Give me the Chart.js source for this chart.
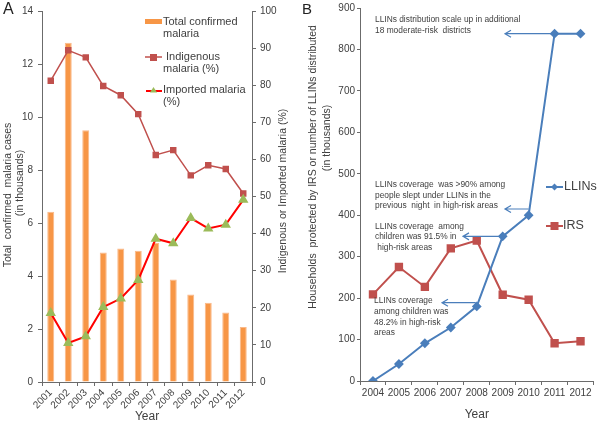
<!DOCTYPE html>
<html>
<head>
<meta charset="utf-8">
<script src="https://cdn.jsdelivr.net/npm/chart.js@4.4.0/dist/chart.umd.min.js"></script>
<style>
  html, body { margin: 0; padding: 0; background: #fff; }
  #wrap { position: relative; width: 600px; height: 423px; }
  #cA { position: absolute; left: 0; top: 0; }
  #cB { position: absolute; left: 300px; top: 0; }
</style>
</head>
<body>
<div id="wrap">
  <canvas id="cA" width="300" height="423"></canvas>
  <canvas id="cB" width="300" height="423"></canvas>
</div>
<script>
// Panel A data
const years = ['2001', '2002', '2003', '2004', '2005', '2006', '2007', '2008', '2009', '2010', '2011', '2012'];
const totalCases = [6.42, 12.8, 9.5, 4.89, 5.04, 4.95, 5.25, 3.87, 3.3, 2.99, 2.62, 2.08];
const indigenousPct = [81.2, 89.4, 87.5, 79.8, 77.3, 72.2, 61.2, 62.5, 55.7, 58.4, 57.4, 50.8];
const importedPct = [18.6, 10.5, 12.3, 20.2, 22.5, 27.5, 38.6, 37.4, 44.2, 41.4, 42.4, 49.1];

// Panel B data
const yearsB = ['2004', '2005', '2006', '2007', '2008', '2009', '2010', '2011', '2012'];
const llins = [0, 41, 91, 129, 180, 349, 400, 838, 838];
const irs = [209, 275, 227, 320, 339, 208, 196, 91, 96];

const FONT = '"Liberation Sans", Arial, sans-serif';
const TXT = '#404040';
const AXIS = '#6b6b6b';
const ORANGE = '#F79646';
const DARKRED = '#C0504D';
const BLUE = '#4A7EBB';

function rotText(ctx, text, x, y, size) {
    ctx.save();
    ctx.translate(x, y);
    ctx.rotate(-Math.PI / 2);
    ctx.font = size + 'px ' + FONT;
    ctx.fillStyle = TXT;
    ctx.textAlign = 'center';
    ctx.textBaseline = 'middle';
    ctx.fillText(text, 0, 0);
    ctx.restore();
}

function lines(ctx, arr, x, y, lh, size) {
    ctx.font = size + 'px ' + FONT;
    ctx.fillStyle = TXT;
    ctx.textAlign = 'left';
    ctx.textBaseline = 'middle';
    arr.forEach((t, i) => ctx.fillText(t, x, y + i * lh));
}

// Texte und Legende für Panel A
const decorA = {
    id: 'decorA',
    afterDraw(chart) {
        const ctx = chart.ctx;
        const area = chart.chartArea;
        ctx.save();
        ctx.font = '16px ' + FONT;
        ctx.fillStyle = '#222';
        ctx.textBaseline = 'top';
        ctx.fillText('A', 3, 2);

        rotText(ctx, 'Total  confirmed  malaria cases', 8, 195, 10.5);
        rotText(ctx, '(in thousands)', 20, 183, 10.5);
        rotText(ctx, 'Indigenous or Imported malaria (%)', 283, 191, 10.5);

        ctx.font = '12px ' + FONT;
        ctx.fillStyle = TXT;
        ctx.textAlign = 'center';
        ctx.textBaseline = 'middle';
        ctx.fillText('Year', (area.left + area.right) / 2, 417);

        // legend
        ctx.fillStyle = ORANGE;
        ctx.fillRect(145, 19, 17, 5);
        lines(ctx, ['Total confirmed', 'malaria'], 163, 22, 11.5, 11);

        ctx.strokeStyle = DARKRED;
        ctx.lineWidth = 1.5;
        ctx.beginPath(); ctx.moveTo(145, 57); ctx.lineTo(162, 57); ctx.stroke();
        ctx.fillStyle = DARKRED;
        ctx.fillRect(150, 54, 7, 7);
        lines(ctx, [' Indigenous', 'malaria (%)'], 163, 57, 11.5, 11);

        ctx.strokeStyle = '#FF0000';
        ctx.lineWidth = 2;
        ctx.beginPath(); ctx.moveTo(146, 91); ctx.lineTo(162, 91); ctx.stroke();
        ctx.fillStyle = '#9BBB59';
        ctx.beginPath(); ctx.moveTo(153.5, 87); ctx.lineTo(157, 92.5); ctx.lineTo(150, 92.5); ctx.closePath(); ctx.fill();
        lines(ctx, ['Imported malaria', '(%)'], 163, 90, 11.5, 11);
        ctx.restore();
    }
};

function arrow(ctx, x1, x2, y) {
    ctx.beginPath();
    ctx.moveTo(x1, y); ctx.lineTo(x2, y);
    ctx.moveTo(x2 + 6, y - 3.5); ctx.lineTo(x2, y); ctx.lineTo(x2 + 6, y + 3.5);
    ctx.stroke();
}

// Anmerkungen für Panel B
const decorB = {
    id: 'decorB',
    afterDraw(chart) {
        const ctx = chart.ctx;
        const area = chart.chartArea;
        const xs = chart.scales.x;
        const ys = chart.scales.y;
        ctx.save();
        ctx.font = '15px ' + FONT;
        ctx.fillStyle = '#222';
        ctx.textBaseline = 'top';
        ctx.fillText('B', 2, 2);

        rotText(ctx, 'Households  protected by IRS or number of LLINs distributed', 13, 167, 10.5);
        rotText(ctx, '(in thousands)', 27, 138, 10.5);

        ctx.font = '12px ' + FONT;
        ctx.fillStyle = TXT;
        ctx.textAlign = 'center';
        ctx.textBaseline = 'middle';
        ctx.fillText('Year', (area.left + area.right) / 2, 415);

        lines(ctx, ['LLINs distribution scale up in additional', '18 moderate-risk  districts'], 75, 20, 10.3, 8.4);
        lines(ctx, ['LLINs coverage  was >90% among', 'people slept under LLINs in the', 'previous  night  in high-risk areas'], 75, 185, 10.5, 8.4);
        lines(ctx, ['LLINs coverage  among', 'children was 91.5% in', ' high-risk areas'], 75, 226.5, 10.5, 8.4);
        lines(ctx, ['LLINs coverage', 'among children was', '48.2% in high-risk', 'areas'], 74, 301, 10.7, 8.4);

        ctx.strokeStyle = BLUE;
        ctx.lineWidth = 1.2;
        arrow(ctx, xs.getPixelForValue(7), 205, ys.getPixelForValue(llins[7]));
        arrow(ctx, xs.getPixelForValue(6), 205, ys.getPixelForValue(415));
        arrow(ctx, xs.getPixelForValue(5), 163, ys.getPixelForValue(llins[5]));
        arrow(ctx, xs.getPixelForValue(4) - 1, 142, ys.getPixelForValue(189));

        // legend
        ctx.strokeStyle = BLUE;
        ctx.lineWidth = 2;
        ctx.beginPath(); ctx.moveTo(246, 187); ctx.lineTo(263, 187); ctx.stroke();
        ctx.fillStyle = BLUE;
        ctx.beginPath(); ctx.moveTo(254.5, 183.5); ctx.lineTo(258, 187); ctx.lineTo(254.5, 190.5); ctx.lineTo(251, 187); ctx.closePath(); ctx.fill();
        lines(ctx, ['LLINs'], 264, 187, 12, 12.5);

        ctx.strokeStyle = DARKRED;
        ctx.beginPath(); ctx.moveTo(246, 226); ctx.lineTo(263, 226); ctx.stroke();
        ctx.fillStyle = DARKRED;
        ctx.fillRect(250.5, 222, 8, 8);
        lines(ctx, ['IRS'], 263, 226, 12, 12.5);
        ctx.restore();
    }
};

const axisGrid = { drawOnChartArea: false, drawTicks: true, tickLength: 4, color: AXIS };
const axisBorder = { display: true, color: AXIS, width: 1 };
const tickFont = { family: FONT, size: 10 };

new Chart(document.getElementById('cA'), {
    type: 'bar',
    data: {
        labels: years,
        datasets: [
            {
                type: 'line',
                label: 'Imported malaria (%)',
                data: importedPct,
                yAxisID: 'y1',
                borderColor: '#FF0000',
                borderWidth: 2,
                pointStyle: 'triangle',
                pointRadius: 4,
                pointBackgroundColor: '#9BBB59',
                pointBorderColor: '#9BBB59',
                order: 0
            },
            {
                type: 'line',
                label: 'Indigenous malaria (%)',
                data: indigenousPct,
                yAxisID: 'y1',
                borderColor: DARKRED,
                borderWidth: 1.5,
                pointStyle: 'rect',
                pointRadius: 3.5,
                pointBackgroundColor: DARKRED,
                pointBorderColor: DARKRED,
                order: 1
            },
            {
                type: 'bar',
                label: 'Total confirmed malaria',
                data: totalCases,
                yAxisID: 'y',
                backgroundColor: ORANGE,
                borderColor: '#FAB98A',
                borderWidth: { left: 1, right: 1, top: 1, bottom: 0 },
                barPercentage: 0.4,
                categoryPercentage: 1,
                order: 3
            }
        ]
    },
    options: {
        responsive: false,
        animation: false,
        layout: { padding: { top: 9, left: 0, right: 0, bottom: 0 } },
        plugins: { legend: { display: false }, tooltip: { enabled: false } },
        scales: {
            x: {
                grid: { ...axisGrid, offset: true },
                border: axisBorder,
                ticks: { font: tickFont, color: TXT, minRotation: 45, maxRotation: 45, autoSkip: false, padding: 1 },
                afterFit: s => { s.height = 41; }
            },
            y: {
                position: 'left',
                min: 0, max: 14,
                grid: axisGrid,
                border: axisBorder,
                ticks: { stepSize: 2, font: tickFont, color: TXT, padding: 5 },
                afterFit: s => { s.width = 42; }
            },
            y1: {
                position: 'right',
                min: 0, max: 100,
                grid: axisGrid,
                border: axisBorder,
                ticks: { stepSize: 10, font: tickFont, color: TXT, padding: 4 },
                afterFit: s => { s.width = 48; }
            }
        }
    },
    plugins: [decorA]
});

new Chart(document.getElementById('cB'), {
    type: 'line',
    data: {
        labels: yearsB,
        datasets: [
            {
                label: 'LLINs',
                data: llins,
                borderColor: BLUE,
                borderWidth: 2,
                pointStyle: 'rectRot',
                pointRadius: 3.5,
                pointBackgroundColor: BLUE,
                pointBorderColor: BLUE
            },
            {
                label: 'IRS',
                data: irs,
                borderColor: DARKRED,
                borderWidth: 2,
                pointStyle: 'rect',
                pointRadius: 4.5,
                pointBackgroundColor: DARKRED,
                pointBorderColor: DARKRED
            }
        ]
    },
    options: {
        responsive: false,
        animation: false,
        layout: { padding: { top: 7, left: 0, right: 3, bottom: 0 } },
        plugins: { legend: { display: false }, tooltip: { enabled: false } },
        scales: {
            x: {
                offset: true,
                grid: { ...axisGrid, offset: true },
                border: axisBorder,
                ticks: { font: tickFont, color: TXT, maxRotation: 0, autoSkip: false, padding: 2 },
                afterFit: s => { s.height = 42; }
            },
            y: {
                min: 0, max: 900,
                grid: { ...axisGrid, tickLength: 3 },
                border: axisBorder,
                ticks: { stepSize: 100, font: tickFont, color: TXT, padding: 2 },
                afterFit: s => { s.width = 60; }
            }
        }
    },
    plugins: [decorB]
});
</script>
</body>
</html>
